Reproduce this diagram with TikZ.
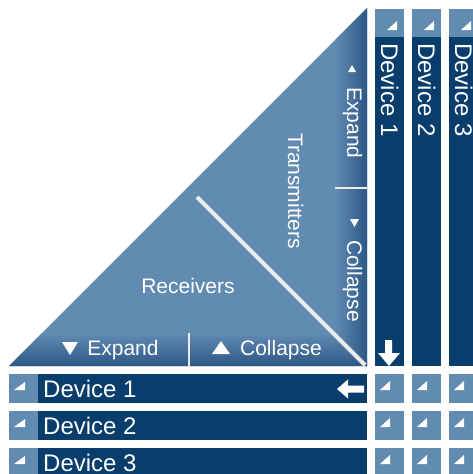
\documentclass[tikz,border=0pt]{standalone}
\usepackage{fontspec}
\setmainfont{Liberation Sans}
\definecolor{paleblue}{RGB}{98,139,178}
\definecolor{navy}{RGB}{9,61,108}
\definecolor{banddark}{RGB}{44,88,134}
\definecolor{seam}{RGB}{236,236,236}
\tikzset{
  lbl/.style={text=white, inner sep=0pt, font=\fontsize{21}{25}\selectfont},
  devlbl/.style={text=white, inner sep=0pt, font=\fontsize{24}{28}\selectfont},
}

\begin{document}
\begin{tikzpicture}[x=1pt,y=-1pt]
\useasboundingbox (0,0) rectangle (473,474);
% corner triangle with its two bands
\fill[paleblue] (9,366) -- (367,8) -- (367,366) -- cycle;
\shade[top color=paleblue, bottom color=banddark] (42,333) -- (333,333) -- (366,366) -- (9,366) -- cycle;
\shade[left color=paleblue, right color=banddark] (335,40) -- (367,8) -- (367,367) -- (335,335) -- cycle;
\draw[seam, line width=1.5pt] (189,333) -- (189,366);
\draw[seam, line width=1.5pt] (335,188) -- (367,188);
\draw[seam, line width=4pt] (197,197) -- (365,365);
\node[lbl, anchor=base] (recv) at (188,293) {Receivers};
\node[lbl, rotate=-90, anchor=base] (trans) at (288,191) {Transmitters};
\node[lbl, anchor=base] (bexp) at (123,355) {Expand};
\node[lbl, anchor=base] (bcol) at (281,355) {Collapse};
\node[lbl, rotate=-90, anchor=base] (rexp) at (347,123) {Expand};
\node[lbl, rotate=-90, anchor=base] (rcol) at (347,281) {Collapse};
\fill[white] (62,342) -- (78,342) -- (70,355) -- cycle;
\fill[white] (212,354) -- (230,354) -- (221,341) -- cycle;
\fill[white] (348,72) -- (356,72) -- (352,65) -- cycle;
\fill[white] (350,219) -- (359,219) -- (354.5,227) -- cycle;
% column headers
\foreach \i/\x in {1/375,2/412,3/449} {
  \fill[paleblue] (\x,9) rectangle ++(29,28);
  \fill[navy] (\x,37) rectangle ++(29,329);
  \fill[white] (\x+12,30) -- ++(10,0) -- ++(0,-9) -- cycle;
  \node[devlbl, rotate=-90, anchor=base west] (col\i) at (\x+6,43) {Device \i};
}
% rows and grid
\foreach \i/\y in {1/374,2/411,3/448} {
  \fill[paleblue] (9,\y) rectangle ++(29,29);
  \fill[navy] (38,\y) rectangle (367,\y+29);
  \fill[white] (14,\y+16) -- ++(11,0) -- ++(0,-8) -- cycle;
  \node[devlbl, anchor=base west] (row\i) at (43,\y+23) {Device \i};
  \foreach \x in {375,412,449} {
    \fill[paleblue] (\x,\y) rectangle ++(29,29);
    \fill[white] (\x+5,\y+16) -- ++(10,0) -- ++(0,-9) -- cycle;
  }
}
% selection arrows
\fill[white] (385,340) -- (392,340) -- (392,353) -- (400,353) -- (389,366) -- (378,353) -- (385,353) -- cycle;
\fill[white] (364,385.5) -- (364,392.5) -- (348,392.5) -- (348,398.5) -- (337,389) -- (348,379.5) -- (348,385.5) -- cycle;
\end{tikzpicture}
\end{document}
